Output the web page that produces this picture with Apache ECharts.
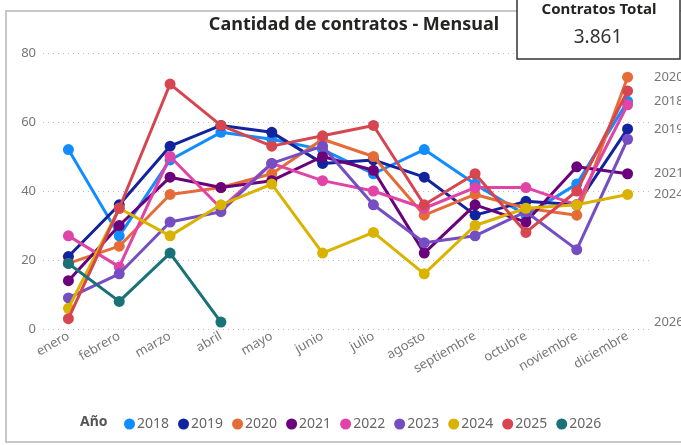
<!DOCTYPE html>
<html>
<head>
<meta charset="utf-8">
<script src="https://cdn.jsdelivr.net/npm/echarts@6/dist/echarts.min.js"></script>
<style>html,body{margin:0;padding:0;background:#fff}#c{width:681px;height:445px}</style>
</head>
<body>
<div id="c"></div>
<script>
const months = ['enero','febrero','marzo','abril','mayo','junio','julio','agosto','septiembre','octubre','noviembre','diciembre'];
const years = ['2018','2019','2020','2021','2022','2023','2024','2025','2026'];
const colors = ['#118DFF','#12239E','#E66C37','#6B007B','#E044A7','#744EC2','#D9B300','#D64550','#197278'];
const s2018 = [52,27,49,57,55,52,45,52,42,33,42,66];
const s2019 = [21,36,53,59,57,48,49,44,33,37,36,58];
const s2020 = [19,24,39,41,45,55,50,33,39,35,33,73];
const s2021 = [14,30,44,41,43,50,46,22,36,31,47,45];
const s2022 = [27,18,50,35,48,43,40,35,41,41,36,65];
const s2023 = [9,16,31,34,48,53,36,25,27,34,23,55];
const s2024 = [6,35,27,36,42,22,28,16,30,35,36,39];
const s2025 = [3,35,71,59,53,56,59,36,45,28,40,69];
const s2026 = [19,8,22,2];
const seriesData = [s2018,s2019,s2020,s2021,s2022,s2023,s2024,s2025,s2026];
const endLabelYears = ['2020','2018','2019','2021','2024','2026'];
const yTicks = [0,20,40,60,80];
const totalLabel = 'Contratos Total';
const totalValue = '3.861';

const FONT = '"Segoe UI","Noto Sans",sans-serif';
const chart = echarts.init(document.getElementById('c'));

const series = years.map((y,i)=>({
  name: y,
  type: 'line',
  data: seriesData[i],
  symbol: 'circle',
  symbolSize: 11,
  showAllSymbol: true,
  lineStyle: {width: 3, color: colors[i]},
  itemStyle: {color: colors[i]},
  emphasis: {disabled: true},
  animation: false,
  z: 2 + i
}));

const baseGraphics = [
  {type:'rect', z:-10, silent:true, shape:{x:6,y:11,width:720,height:431}, style:{fill:'#fff', stroke:'#c8c8c8', lineWidth:2}},
  {type:'rect', z:50, shape:{x:517,y:-2,width:163,height:61}, style:{fill:'#fff', stroke:'#333', lineWidth:1.5}},
  {type:'text', z:51, x:599, y:10, style:{text: totalLabel, fill:'#252423', font:'bold 15px '+FONT, align:'center', verticalAlign:'middle'}},
  {type:'text', z:51, x:598, y:38, style:{text: totalValue, fill:'#333', font:'19px '+FONT, align:'center', verticalAlign:'middle'}},
  {type:'text', z:51, x:80, y:422, style:{text: 'Año', fill:'#555', font:'bold 14px '+FONT, align:'left', verticalAlign:'middle'}}
];

chart.setOption({
  backgroundColor: '#fff',
  color: colors,
  animation: false,
  title: {
    text: 'Cantidad de contratos - Mensual',
    left: 349, top: 11, textAlign: 'center',
    textStyle: {fontFamily: FONT, fontSize: 18, fontWeight: 'bold', color: '#252423'}
  },
  grid: {left: 43, right: 28, top: 53, bottom: 116},
  legend: {
    data: years,
    left: 119, top: 412,
    icon: 'circle', itemWidth: 11, itemHeight: 11, itemGap: 9,
    textStyle: {fontFamily: FONT, fontSize: 14, color: '#666', padding: [0,0,0,-3]}
  },
  xAxis: {
    type: 'category', data: months, boundaryGap: true,
    axisLine: {show: false}, axisTick: {show: false},
    axisLabel: {rotate: 30, color: '#777', fontFamily: FONT, fontSize: 13, margin: 6, interval: 0}
  },
  yAxis: {
    type: 'value', min: yTicks[0], max: yTicks[yTicks.length-1], interval: 20,
    axisLine: {show: false}, axisTick: {show: false},
    axisLabel: {color: '#777', fontFamily: FONT, fontSize: 13, margin: 7},
    splitLine: {lineStyle: {type: [1,4], color: '#bbb', width: 1}}
  },
  graphic: baseGraphics,
  series: series
});

const endGraphics = endLabelYears.map(y=>{
  const d = seriesData[years.indexOf(y)];
  const py = chart.convertToPixel({yAxisIndex:0}, d[d.length-1]);
  return {type:'text', z:40, x:654, y:py, style:{text:y, fill:'#777', font:'13px '+FONT, align:'left', verticalAlign:'middle'}};
});
chart.setOption({graphic: baseGraphics.concat(endGraphics)}, {replaceMerge: ['graphic']});
</script>
</body>
</html>
